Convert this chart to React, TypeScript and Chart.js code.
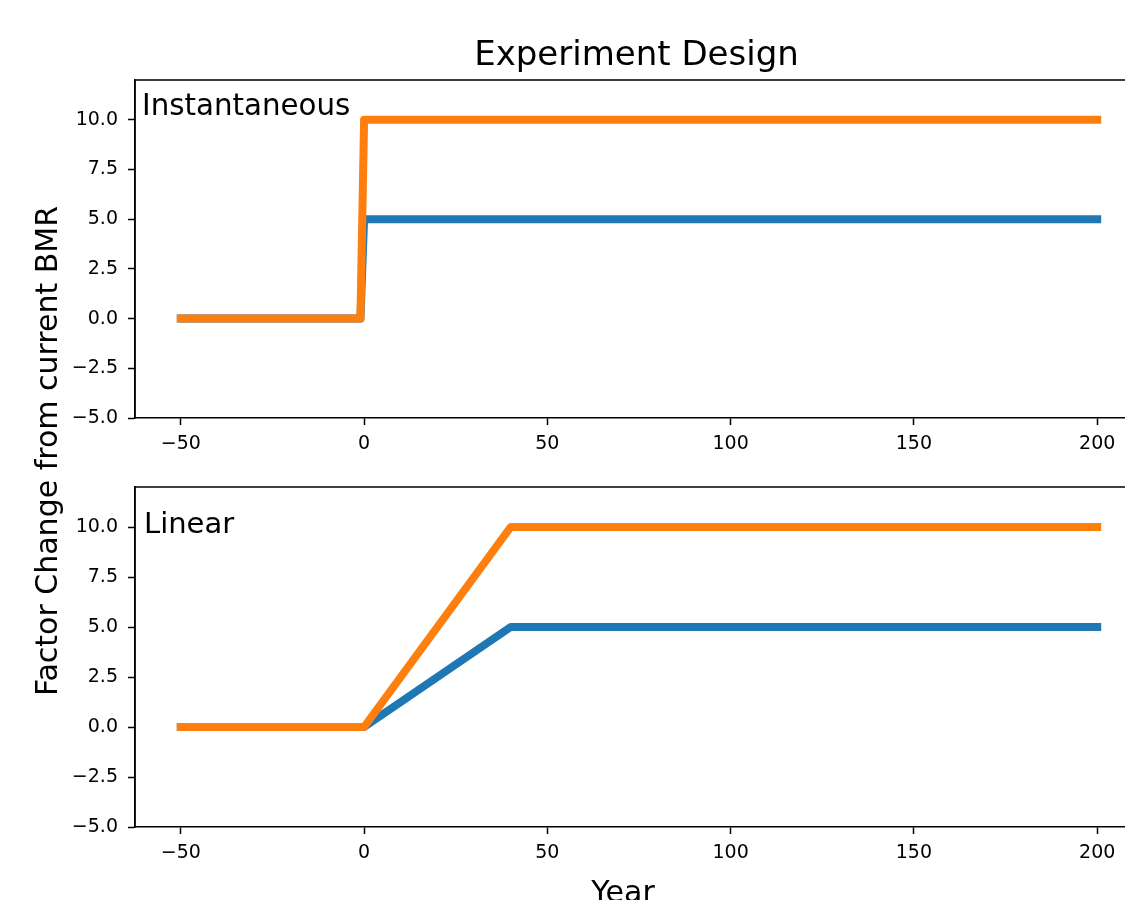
import React, { useEffect, useRef } from "react";
import { Chart, registerables } from "chart.js";

Chart.register(...registerables);

const TITLE = "Experiment Design";
const Y_LABEL = "Factor Change from current BMR";
const X_LABEL = "Year";

const instYears = [-50, -1, 0, 200];
const instBlue = [0, 0, 5, 5];
const instOrange = [0, 0, 10, 10];

const linYears = [-50, 0, 40, 200];
const linBlue = [0, 0, 5, 5];
const linOrange = [0, 0, 10, 10];

const xTicks = [-50, 0, 50, 100, 150, 200];
const yTicks = [-5, -2.5, 0, 2.5, 5, 7.5, 10];

const BLUE = "#1f77b4";
const ORANGE = "#ff7f0e";
const FONT = "DejaVu Sans";
const W = 1160;
const H = 900;

const minus = (s: string) => s.replace("-", "\u2212");

type TextItem = { text: string; x: number; y: number; size: number; align: CanvasTextAlign; rotate?: boolean };

function makeChart(
  canvas: HTMLCanvasElement,
  years: number[],
  blue: number[],
  orange: number[],
  top: number,
  bottom: number,
  texts: TextItem[]
) {
  const mk = (vals: number[]) => years.map((x, i) => ({ x, y: vals[i] }));
  const ds = (vals: number[], color: string, order: number) => ({
    data: mk(vals),
    borderColor: color,
    backgroundColor: color,
    borderWidth: 8,
    pointRadius: 0,
    tension: 0,
    order,
    borderCapStyle: "square" as const,
    borderJoinStyle: "round" as const,
    fill: false,
  });
  const tickFont = { family: FONT, size: 19 };
  const framePlugin = {
    id: "frame",
    afterDraw(chart: any) {
      const { ctx, chartArea: a } = chart;
      ctx.save();
      ctx.strokeStyle = "#000";
      ctx.lineWidth = 1.5;
      ctx.beginPath();
      ctx.moveTo(a.left, a.bottom);
      ctx.lineTo(a.left, a.top);
      ctx.lineTo(a.right, a.top);
      ctx.lineTo(a.right, a.bottom);
      ctx.stroke();
      ctx.fillStyle = "#000";
      for (const t of texts) {
        ctx.font = `${t.size}px "${FONT}"`;
        ctx.textAlign = t.align;
        ctx.textBaseline = "alphabetic";
        if (t.rotate) {
          ctx.save();
          ctx.translate(t.x, t.y);
          ctx.rotate(-Math.PI / 2);
          ctx.fillText(t.text, 0, 0);
          ctx.restore();
        } else {
          ctx.fillText(t.text, t.x, t.y);
        }
      }
      ctx.restore();
    },
  };
  return new Chart(canvas, {
    type: "line",
    data: { datasets: [ds(blue, BLUE, 2), ds(orange, ORANGE, 1)] },
    options: {
      animation: false,
      responsive: false,
      devicePixelRatio: 1,
      layout: { padding: { top, bottom: H - bottom - 40, left: 0, right: 17 } },
      plugins: { legend: { display: false }, tooltip: { enabled: false }, title: { display: false } },
      scales: {
        x: {
          type: "linear",
          min: -62.5,
          max: 212.5,
          afterBuildTicks: (s: any) => {
            s.ticks = xTicks.map((v) => ({ value: v }));
          },
          afterFit: (s: any) => {
            s.height = 40;
          },
          grid: { drawOnChartArea: false, drawTicks: true, tickLength: 7, tickColor: "#000", tickWidth: 1.5 },
          border: { color: "#000", width: 1.5 },
          ticks: {
            font: tickFont,
            color: "#000",
            padding: 8,
            maxRotation: 0,
            autoSkip: false,
            callback: (v: any) => minus(String(v)),
          },
        },
        y: {
          type: "linear",
          min: -5,
          max: 12,
          afterBuildTicks: (s: any) => {
            s.ticks = yTicks.map((v) => ({ value: v }));
          },
          afterFit: (s: any) => {
            s.width = 135;
          },
          grid: { drawOnChartArea: false, drawTicks: true, tickLength: 7, tickColor: "#000", tickWidth: 1.5 },
          border: { color: "#000", width: 1.5 },
          ticks: {
            font: tickFont,
            color: "#000",
            padding: 10,
            autoSkip: false,
            callback: (v: any) => minus(Number(v).toFixed(1)),
          },
        },
      },
    },
    plugins: [framePlugin],
  } as any);
}

export default function App() {
  const topRef = useRef<HTMLCanvasElement>(null);
  const botRef = useRef<HTMLCanvasElement>(null);
  useEffect(() => {
    const c1 = makeChart(topRef.current!, instYears, instBlue, instOrange, 80, 418, [
      { text: TITLE, x: 636.5, y: 65, size: 34, align: "center" },
      { text: Y_LABEL, x: 57, y: 451, size: 30, align: "center", rotate: true },
      { text: "Instantaneous", x: 142, y: 115, size: 29.3, align: "left" },
    ]);
    const c2 = makeChart(botRef.current!, linYears, linBlue, linOrange, 487, 827, [
      { text: X_LABEL, x: 623, y: 902, size: 30, align: "center" },
      { text: "Linear", x: 144, y: 533, size: 29, align: "left" },
    ]);
    return () => {
      c1.destroy();
      c2.destroy();
    };
  }, []);
  const cs: React.CSSProperties = { position: "absolute", left: 0, top: 0, width: W, height: H };
  return (
    <div style={{ position: "fixed", left: 0, top: 0, width: 1125, height: 900, overflow: "hidden", background: "#fff" }}>
      <canvas ref={topRef} width={W} height={H} style={cs} />
      <canvas ref={botRef} width={W} height={H} style={cs} />
    </div>
  );
}
